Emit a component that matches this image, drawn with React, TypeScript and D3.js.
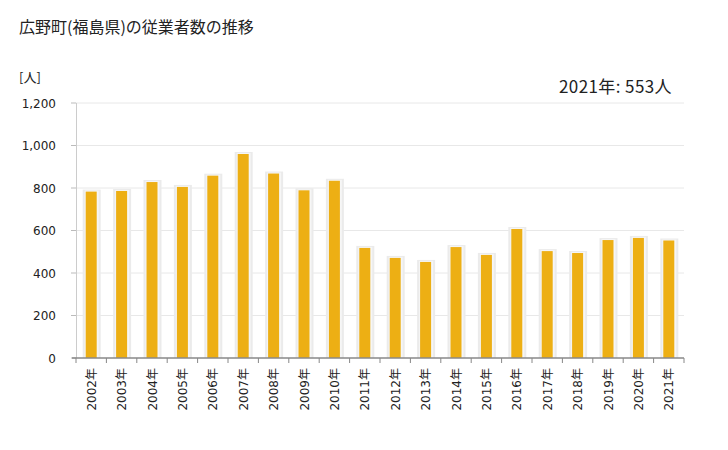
import React from "react";
import * as d3 from "d3";

const years = ["2002","2003","2004","2005","2006","2007","2008","2009","2010","2011","2012","2013","2014","2015","2016","2017","2018","2019","2020","2021"];
const values = [783, 786, 828, 805, 858, 960, 868, 789, 834, 518, 471, 452, 522, 485, 607, 503, 494, 555, 565, 553];
const yTicks = [0, 200, 400, 600, 800, 1000, 1200];

const W = 728, H = 450;
const left = 76, right = 684, top = 103, bottom = 358;
const font = "'DejaVu Sans', 'Noto Sans CJK JP', sans-serif";
const titleFont = "'Noto Sans CJK JP', sans-serif";

export default function App() {
  const x = d3.scaleBand<string>().domain(years).range([left, right]);
  const y = d3.scaleLinear().domain([0, 1200]).range([bottom, top]);
  const fmt = d3.format(",");
  const bw = 11;
  return (
    <svg width={W} height={H} style={{ position: "absolute", left: 0, top: 0, background: "#fff" }} fontFamily={font}>
      <text x={19} y={33} fontSize={16} fill="#222" fontFamily={titleFont}>広野町(福島県)の従業者数の推移</text>
      <text x={19} y={82} fontSize={13} fill="#222" fontFamily={titleFont}>[人]</text>
      <text x={672} y={93} fontSize={17} fill="#222" textAnchor="end" fontFamily={titleFont} letterSpacing={0.4}>2021年: 553人</text>
      {yTicks.map(t => (
        <g key={t}>
          {t > 0 && <line x1={left} x2={right} y1={y(t)} y2={y(t)} stroke="#e8e8e8" strokeWidth={1} />}
          <line x1={left - 5} x2={left} y1={y(t)} y2={y(t)} stroke="#bbb" strokeWidth={1} />
          <text x={56} y={y(t) + 4.5} fontSize={12} fill="#222" textAnchor="end">{fmt(t)}</text>
        </g>
      ))}
      <line x1={left + 0.5} x2={left + 0.5} y1={top} y2={bottom} stroke="#cccccc" strokeWidth={1} />
      {years.map((yr, i) => {
        const cx = (x(yr) as number) + x.bandwidth() / 2;
        const yy = y(values[i]);
        return (
          <g key={yr}>
            <rect x={cx - bw / 2 - 3} y={yy - 2} width={bw + 7} height={bottom - yy + 2} fill="#ebebeb" />
            <rect x={cx - bw / 2 - 1} y={yy - 1} width={bw + 3} height={bottom - yy + 1} fill="#f6f6f6" />
            <rect x={cx - bw / 2} y={yy} width={bw} height={bottom - yy} fill="#EDAF14" />
          </g>
        );
      })}
      <line x1={left - 4} x2={right} y1={bottom} y2={bottom} stroke="#888" strokeWidth={1.5} />
      {years.map(yr => (
        <line key={"t" + yr} x1={x(yr) as number} x2={x(yr) as number} y1={bottom} y2={bottom + 5} stroke="#888" strokeWidth={1} />
      ))}
      <line x1={right} x2={right} y1={bottom} y2={bottom + 5} stroke="#888" strokeWidth={1} />
      {years.map(yr => {
        const cx = (x(yr) as number) + x.bandwidth() / 2;
        return (
          <text key={"l" + yr} transform={`translate(${cx + 4.5},${368}) rotate(-90)`} fontSize={12} fill="#222" textAnchor="end">{yr}年</text>
        );
      })}
    </svg>
  );
}
